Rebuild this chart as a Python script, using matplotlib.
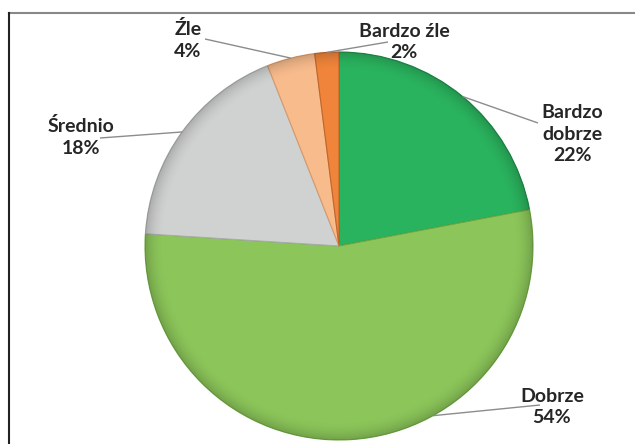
import numpy as np
import matplotlib.pyplot as plt
from matplotlib.lines import Line2D
from matplotlib.patches import Circle

plt.rcParams['font.family'] = ['Lato', 'DejaVu Sans']

labels = ["Bardzo\ndobrze", "Dobrze", "Średnio", "Źle", "Bardzo źle"]
values = [22, 54, 18, 4, 2]
colors = ["#2ab35e", "#8cc65a", "#d0d2d1", "#f8bb8c", "#ef843a"]
edge_colors = ["#1f8a47", "#6ea641", "#a9abaa", "#d99a6a", "#c0662a"]

# layout in pixels (x, y from top): label centre, line end at label, anchor angle on rim
label_pos = [(572, 134), (552, 407), (81, 137), (188, 40), (404, 42)]
line_end = [(538, 123), (540, 405), (100, 138), (205, 39), (388, 42)]
anchor_deg = [50.4, -61.0, 144.0, 104.4, 93.6]

W, H = 635, 444
CX, CY, R = 339, 246, 194

fig = plt.figure(figsize=(W / 100, H / 100), dpi=100)
ax = fig.add_axes([0, 0, 1, 1])

wedges, _ = ax.pie(values, colors=colors, startangle=90, counterclock=False,
                   center=(CX, H - CY), radius=R, frame=True,
                   wedgeprops=dict(linewidth=0.8))
for w, ec in zip(wedges, edge_colors):
    w.set_edgecolor(ec)

# soft darkening towards the rim (bevel look)
n = 400
gx, gy = np.meshgrid(np.linspace(-1, 1, n), np.linspace(-1, 1, n))
rr = np.sqrt(gx ** 2 + gy ** 2)
shade = np.zeros((n, n, 4))
shade[..., 3] = np.clip((rr - 0.9) / 0.1, 0, 1) ** 2 * 0.18
img = ax.imshow(shade, extent=(CX - R, CX + R, H - CY - R, H - CY + R),
                origin='lower', zorder=3, interpolation='bilinear')
clip = Circle((CX, H - CY), R, transform=ax.transData)
img.set_clip_path(clip)

ax.set_xlim(0, W)
ax.set_ylim(0, H)
ax.set_aspect('equal')
ax.axis('off')

for i, lab in enumerate(labels):
    a = np.deg2rad(anchor_deg[i])
    x0 = CX + R * np.cos(a)
    y0 = (H - CY) + R * np.sin(a)
    ex, ey = line_end[i]
    ax.plot([x0, ex], [y0, H - ey], color="#8c8c8c", lw=1.0, solid_capstyle='butt', zorder=4)
    tx, ty = label_pos[i]
    ax.text(tx, H - ty, f"{lab}\n{values[i]}%", ha='center', va='center',
            fontsize=14, fontweight='bold', color="#262626", linespacing=1.35, zorder=5)

# chart frame (top and left edges visible)
fig.add_artist(Line2D([9 / W, 1], [1 - 13 / H, 1 - 13 / H], color="#888888", lw=1.5))
fig.add_artist(Line2D([9 / W, 9 / W], [0, 1 - 13 / H], color="#222222", lw=1.5))

fig.savefig("out.png", dpi=100)
